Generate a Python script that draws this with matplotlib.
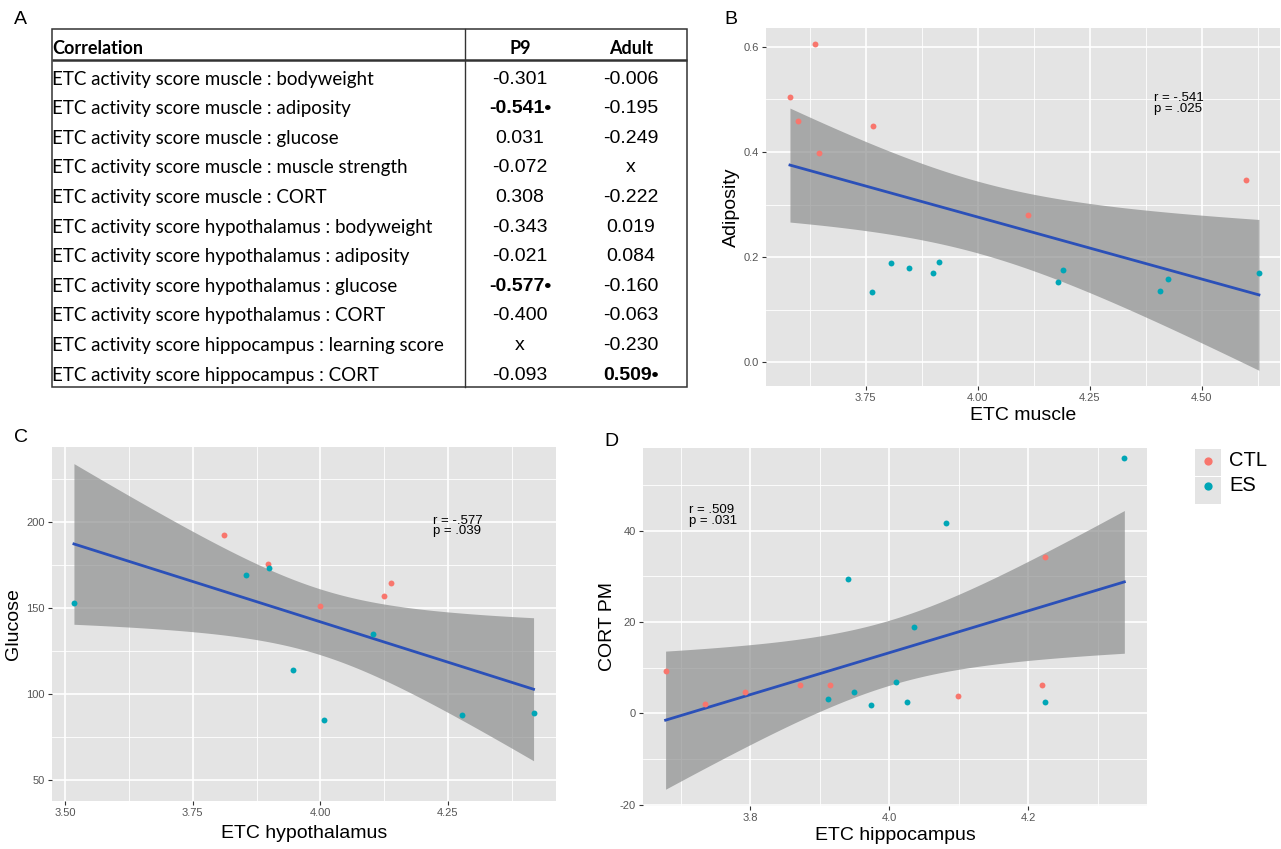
import numpy as np
import matplotlib.pyplot as plt
from matplotlib.patches import Rectangle
from matplotlib.ticker import FixedLocator

W, H = 1281, 849

# ---- panel A: correlation table ----
row_labels = [
    "ETC activity score muscle : bodyweight",
    "ETC activity score muscle : adiposity",
    "ETC activity score muscle : glucose",
    "ETC activity score muscle : muscle strength",
    "ETC activity score muscle : CORT",
    "ETC activity score hypothalamus : bodyweight",
    "ETC activity score hypothalamus : adiposity",
    "ETC activity score hypothalamus : glucose",
    "ETC activity score hypothalamus : CORT",
    "ETC activity score hippocampus : learning score",
    "ETC activity score hippocampus : CORT",
]
p9_vals = ["-0.301", "-0.541", "0.031", "-0.072", "0.308", "-0.343",
           "-0.021", "-0.577", "-0.400", "x", "-0.093"]
adult_vals = ["-0.006", "-0.195", "-0.249", "x", "-0.222", "0.019",
              "0.084", "-0.160", "-0.063", "-0.230", "0.509"]
p9_sig = [False, True, False, False, False, False, False, True, False, False, False]
adult_sig = [False, False, False, False, False, False, False, False, False, False, True]

# ---- panel B: ETC muscle vs adiposity ----
b_ctl_x = [3.581, 3.599, 3.636, 3.645, 3.766, 4.113, 4.599]
b_ctl_y = [0.505, 0.459, 0.606, 0.397, 0.449, 0.280, 0.346]
b_es_x = [3.765, 3.807, 3.846, 3.901, 3.914, 4.180, 4.191, 4.406, 4.425, 4.628]
b_es_y = [0.133, 0.189, 0.179, 0.169, 0.191, 0.153, 0.176, 0.136, 0.158, 0.169]

# ---- panel C: ETC hypothalamus vs glucose ----
c_ctl_x = [3.812, 3.898, 4.000, 4.125, 4.138]
c_ctl_y = [192.1, 175.3, 151.1, 157.1, 164.2]
c_es_x = [3.517, 3.855, 3.900, 3.946, 4.008, 4.103, 4.277, 4.418]
c_es_y = [153.0, 169.1, 172.9, 114.0, 85.0, 135.0, 87.9, 89.0]

# ---- panel D: ETC hippocampus vs CORT PM ----
d_ctl_x = [3.678, 3.734, 3.792, 3.872, 3.914, 4.099, 4.219, 4.224]
d_ctl_y = [9.31, 1.96, 4.58, 6.25, 6.18, 3.85, 6.25, 34.25]
d_es_x = [4.338, 4.081, 3.941, 4.035, 4.009, 3.949, 3.912, 3.974, 4.025, 4.224]
d_es_y = [55.8, 41.6, 29.4, 19.0, 6.84, 4.58, 3.13, 1.89, 2.40, 2.47]

CTL_COL = "#F8766D"
ES_COL = "#00A6B6"
LINE_COL = "#2B50B8"
PANEL = "#E4E4E4"
FONT = "Liberation Sans"

plt.rcParams['font.family'] = [FONT, 'DejaVu Sans']

fig = plt.figure(figsize=(W / 100, H / 100), dpi=100)
fig.patch.set_facecolor("white")


def add_axes_px(l, t, r, b):
    return fig.add_axes([l / W, 1 - b / H, (r - l) / W, (b - t) / H])


# overlay for the table, in pixel coordinates
ax0 = fig.add_axes([0, 0, 1, 1], zorder=0)
ax0.set_xlim(0, W); ax0.set_ylim(H, 0); ax0.axis('off')

tl, tr, tt, tb = 51.5, 687, 28.5, 387
ax0.add_patch(Rectangle((tl, tt), tr - tl, tb - tt, fill=False, lw=1.1, ec="#333333"))
ax0.plot([tl, tr], [60, 60], color="#333333", lw=1.8, solid_capstyle='butt')
ax0.plot([464.5, 464.5], [tt, tb], color="#333333", lw=1.0)
ax0.text(tl + 1, 48, "Correlation", fontsize=13, fontweight='bold', family='Lato', va='center', ha='left')
ax0.text(520, 48, "P9", fontsize=13, fontweight='bold', family='Lato', va='center', ha='center')
ax0.text(631, 48, "Adult", fontsize=13, fontweight='bold', family='Lato', va='center', ha='center')
row_y0, row_dy = 79, 29.6
for i, lab in enumerate(row_labels):
    y = row_y0 + i * row_dy
    ax0.text(tl + 1, y, lab, fontsize=13.5, family='Lato', va='center', ha='left')
    for xc, val, sig in [(520, p9_vals[i], p9_sig[i]), (631, adult_vals[i], adult_sig[i])]:
        txt = val + "•" if sig else val
        ax0.text(xc, y, txt, fontsize=14, va='center', ha='center',
                 fontweight='bold' if sig else 'normal')


def style_axes(ax, xlim, ylim, xt, yt, xminor, yminor, xfmt, yfmt):
    ax.set_facecolor(PANEL)
    for s in ax.spines.values():
        s.set_visible(False)
    ax.set_xlim(*xlim); ax.set_ylim(*ylim)
    ax.set_xticks(xt); ax.set_yticks(yt)
    ax.set_xticklabels([xfmt % v for v in xt]); ax.set_yticklabels([yfmt % v for v in yt])
    ax.xaxis.set_minor_locator(FixedLocator(xminor))
    ax.yaxis.set_minor_locator(FixedLocator(yminor))
    ax.grid(True, which='major', color='white', lw=1.2)
    ax.grid(True, which='minor', color='white', lw=0.6)
    ax.set_axisbelow(True)
    ax.tick_params(which='major', length=3, width=0.8, color='#333333',
                   labelsize=8, labelcolor='#555555', pad=2)
    ax.tick_params(which='minor', length=0)


def smooth(ax, x, y, tcrit):
    x = np.asarray(x); y = np.asarray(y)
    n = len(x)
    b1, b0 = np.polyfit(x, y, 1)
    xs = np.linspace(x.min(), x.max(), 100)
    yh = b0 + b1 * xs
    res = y - (b0 + b1 * x)
    s = np.sqrt(np.sum(res ** 2) / (n - 2))
    se = s * np.sqrt(1 / n + (xs - x.mean()) ** 2 / np.sum((x - x.mean()) ** 2))
    ax.fill_between(xs, yh - tcrit * se, yh + tcrit * se, color='#8A8C8C', alpha=0.68, lw=0, zorder=2)
    ax.plot(xs, yh, color=LINE_COL, lw=2, zorder=3)


def points(ax, cx, cy, ex, ey):
    a = ax.scatter(cx, cy, s=18, color=CTL_COL, zorder=4, label="CTL", linewidths=0)
    b = ax.scatter(ex, ey, s=18, color=ES_COL, zorder=4, label="ES", linewidths=0)
    return a, b


# B
axB = add_axes_px(766, 28, 1280, 386)
style_axes(axB, (3.5275, 4.675), (-0.045, 0.6355), [3.75, 4.0, 4.25, 4.5], [0, 0.2, 0.4, 0.6],
           [3.625, 3.875, 4.125, 4.375, 4.625], [0.1, 0.3, 0.5], "%.2f", "%.1f")
smooth(axB, b_ctl_x + b_es_x, b_ctl_y + b_es_y, 2.131)
points(axB, b_ctl_x, b_ctl_y, b_es_x, b_es_y)
axB.text(4.394, 0.514, "r = -.541\np = .025", fontsize=9.5, va='top', ha='left', linespacing=0.85)
axB.set_xlabel("ETC muscle", fontsize=14, labelpad=3)
axB.set_ylabel("Adiposity", fontsize=14, labelpad=3)

# C
axC = add_axes_px(52, 447, 556, 801)
style_axes(axC, (3.474, 4.462), (38.1, 243.3), [3.5, 3.75, 4.0, 4.25], [50, 100, 150, 200],
           [3.625, 3.875, 4.125, 4.375], [75, 125, 175, 225], "%.2f", "%d")
smooth(axC, c_ctl_x + c_es_x, c_ctl_y + c_es_y, 2.201)
points(axC, c_ctl_x, c_ctl_y, c_es_x, c_es_y)
axC.text(4.221, 204, "r = -.577\np = .039", fontsize=9.5, va='top', ha='left', linespacing=0.85)
axC.set_xlabel("ETC hypothalamus", fontsize=14, labelpad=5)
axC.set_ylabel("Glucose", fontsize=14, labelpad=3)

# D
axD = add_axes_px(643, 447.5, 1147, 806)
style_axes(axD, (3.6455, 4.3706), (-20.3, 58.2), [3.8, 4.0, 4.2], [-20, 0, 20, 40],
           [3.7, 3.9, 4.1, 4.3], [-10, 10, 30, 50], "%.1f", "%d")
smooth(axD, d_ctl_x + d_es_x, d_ctl_y + d_es_y, 2.120)
hc, he = points(axD, d_ctl_x, d_ctl_y, d_es_x, d_es_y)
axD.text(3.712, 45.8, "r = .509\np = .031", fontsize=9.5, va='top', ha='left', linespacing=0.85)
axD.set_xlabel("ETC hippocampus", fontsize=14, labelpad=3)
axD.set_ylabel("CORT PM", fontsize=14, labelpad=3)

# legend with grey key boxes
ax0.add_patch(Rectangle((1195, 449), 26, 27, color=PANEL, lw=0))
ax0.add_patch(Rectangle((1195, 477), 26, 27, color=PANEL, lw=0))
fig.legend([hc, he], ["CTL", "ES"], loc='upper left', bbox_to_anchor=(1198 / W, 1 - 451 / H),
           frameon=False, fontsize=14.5, markerscale=1.4, handlelength=1.0, handletextpad=0.55,
           borderpad=0, borderaxespad=0, labelspacing=0.3)

# panel letters
for lab, x, y in [("A", 20, 20), ("B", 731, 20), ("C", 21, 437), ("D", 611, 441)]:
    fig.text(x / W, 1 - y / H, lab, fontsize=14, ha='center', va='center')

fig.savefig("out.png", dpi=100)
